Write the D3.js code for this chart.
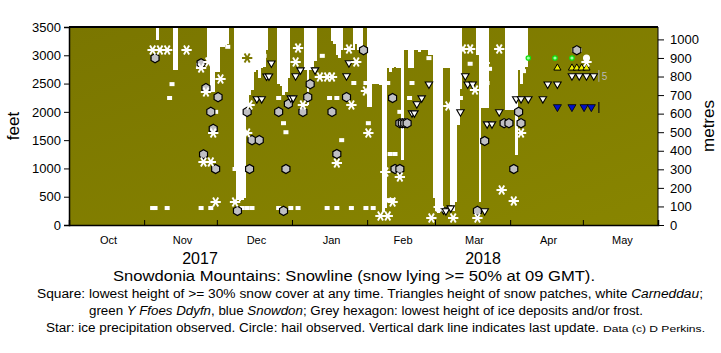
<!DOCTYPE html>
<html>
<head>
<meta charset="utf-8">
<script src="https://cdn.jsdelivr.net/npm/d3@7"></script>
<style>
  body { margin: 0; background: #fff; }
  svg { display: block; font-family: "Liberation Sans", Arial, sans-serif; }
</style>
</head>
<body>
<div id="chart"></div>
<script>
// day index: 0 = 1 Oct 2017, heights in feet

// daily snowline (snow lying >= 50%), white from the top down to this height
const snowline = [
  [36,3270],[43,2740],[44,2740],[57,2900],[58,2350],[59,2350],[60,2700],[61,2700],[62,3150],[63,3150],[64,3180],[65,3200],
  [68,1000],[69,450],[70,430],[71,440],[72,470],[73,1950],[74,2300],[75,2390],[76,2700],[77,2740],[78,2600],[79,2780],[80,2800],[81,3100],
  [86,2500],[87,2450],[88,2300],[89,2350],[90,2600],
  [97,2740],[98,2120],[99,2740],[100,2800],[101,2900],
  [108,3250],[109,3200],[110,3000],[111,2950],[112,3100],
  [117,3100],[118,3200],[119,3100],[120,3150],
  [123,2090],[124,2090],[125,2500],[126,2500],[127,2500],[128,2480],[129,230],[130,300],[131,2780],[132,2700],[133,2780],[134,2800],[135,2780],[136,2780],[137,1150],
  [138,3090],[139,3090],[140,2780],[141,2780],[142,3090],[143,3100],[144,3050],[145,3090],[146,3100],[147,3100],[148,3000],[149,3000],
  [150,480],[151,250],[152,220],[153,300],[154,2780],[155,2780],[156,2780],[157,350],[158,250],[159,400],[160,1770],[161,2400],
  [168,3000],[169,400],[170,2070],[171,2070],[172,2070],
  [180,2030],[181,2030],[182,2030],[183,2030],[184,1240],[185,2740],[186,2500],[187,2740],[188,2800]
];

// lowest height of >= 30% snow cover
const squares = [
  [34,300],[35,300],[40,300],[42,2490],[41,2245],[53,2830],[54,300],[58,300],[60,2000],[68,990],[65,3150],
  [71,300],[73,300],[75,300],[86,300],[91,300],[94,300],[106,300],[110,300],[116,300],[122,300],[125,300],
  [131,440],[133,440],[132,1255],[134,1255],[123,1800],[112,1500],[88,1800],[89,1640],[86,2245],[107,2245],[110,2245],
  [117,2510],[122,2510],[131,2510],[141,2510],[148,2950],[140,2245],[161,2245],[165,2850],[80,2990],[104,2990],
  [136,2000],[172,2510],[173,2760],[187,2720],[208,3090],[210,3090]
];

// ice precipitation
const stars = [
  [34,3094],[37,3094],[40,3094],[48,3094],[54,2776],[57,2882],[62,2581],[56,2351],[59,1626],[55,1114],[58,1114],[60,407],[68,407],
  [74,2122],[73,1626],[94,3129],[93,2882],[103,2616],[106,2616],[108,2616],[96,2122],[115,3111],[118,2882],[122,2369],[116,2122],
  [123,1626],[110,1096],[130,937],[136,849],[133,407],[131,159],[128,159],[149,124],[158,124],[168,124],[156,2104],[165,3111],
  [167,2387],[162,3111],[177,3111],[171,2864],[178,619],[183,424],[186,1626],[213,2882],[152,318]
];
const oliveStars = [[73,2952]];

// lowest ice deposits / frost
const hexagons = [
  [35,2950],[54,2860],[56,2420],[61,2260],[58,2000],[59,1700],[55,1250],[60,990],[69,250],[73,2000],[74,990],[75,1500],[78,1500],
  [86,2000],[90,2140],[89,990],[88,250],[96,2000],[98,2260],[99,2490],[108,2000],[110,1255],[114,2260],[121,3090],
  [133,2245],[134,990],[136,990],[136,1800],[137,1800],[138,1800],[139,1800],[168,250],[171,1485],
  [179,1800],[181,1800],[186,1800],[185,2000],[183,990],[209,3090]
];

// snow patches
const carneddau = [
  [77,2230],[79,2230],[81,2630],[82,2630],[83,2860],[91,2245],[92,2245],[93,2635],[95,2740],[101,2740],[114,2635],[115,2865],
  [141,1980],[142,1980],[143,2140],[145,2245],[148,2490],[154,265],[155,250],[157,300],[161,2000],[163,2635],[164,2490],[166,2490],
  [171,250],[172,1785],[174,1785],[177,2000],[184,2230],[186,2230],[189,2230],[195,2230],[197,2490],[201,2490],
  [207,2635],[210,2635],[213,2635],[216,2635]
];
const yellowTri = [[201,2775],[207,2775],[209,2775],[211,2775],[213,2775]];
const ffoesDdyfn = [[189,2952],[200,2952],[207,2952]];
const snowdon = [[201,2086],[207,2086],[212,2086],[215,2086]];
const hail = [[213,2952]];
const lastUpdate = 218.6;

const monthNames = ["Oct","Nov","Dec","Jan","Feb","Mar","Apr","May"];
const yearLabels = [["2017", 200], ["2018", 483]];

const width = 721, height = 353;
const plotLeft = 69, plotRight = 658, plotTop = 27, plotBottom = 225;
const olive = "#7d7900";

const t0 = new Date(Date.UTC(2017, 9, 1));
const t1 = new Date(Date.UTC(2018, 5, 1));
const x = d3.scaleUtc().domain([t0, t1]).range([plotLeft, plotRight]);
const dayW = x(d3.utcDay.offset(t0, 1)) - x(t0);
const xd = d => x(d3.utcDay.offset(t0, Math.floor(d))) + (d % 1) * dayW;
const y = d3.scaleLinear().domain([0, 3500]).range([plotBottom, plotTop]);
const yM = d3.scaleLinear().domain([0, 3500 * 0.3048]).range([plotBottom, plotTop]);

const svg = d3.select("#chart").append("svg")
    .attr("width", width)
    .attr("height", height);

const defs = svg.append("defs");
const grad = defs.append("linearGradient").attr("id", "bg")
    .attr("x1", "0").attr("y1", "0").attr("x2", "1").attr("y2", "1");
grad.append("stop").attr("offset", "0").attr("stop-color", "#7a7600");
grad.append("stop").attr("offset", "1").attr("stop-color", "#888500");

svg.append("rect")
    .attr("x", plotLeft).attr("y", plotTop)
    .attr("width", plotRight - plotLeft).attr("height", plotBottom - plotTop)
    .attr("fill", "url(#bg)");

// snow lying
svg.append("g")
  .selectAll("rect")
  .data(snowline)
  .join("rect")
    .attr("x", d => xd(d[0]))
    .attr("width", dayW + 0.4)
    .attr("y", y(3500))
    .attr("height", d => y(d[1]) - y(3500))
    .attr("fill", "#fff")
    .attr("shape-rendering", "crispEdges");

const cx = d => xd(d[0] + 0.5);

// squares
svg.append("g")
  .selectAll("rect")
  .data(squares)
  .join("rect")
    .attr("x", d => cx(d) - 2.5)
    .attr("y", d => y(d[1]) - 2)
    .attr("width", 5).attr("height", 4)
    .attr("fill", "#fff");

// hexagons
const hexPath = r => "M" + d3.range(6).map(i => {
  const a = Math.PI / 3 * i + Math.PI / 6;
  return [r * Math.cos(a), r * Math.sin(a)].join(",");
}).join("L") + "Z";

svg.append("g")
  .selectAll("path")
  .data(hexagons)
  .join("path")
    .attr("d", hexPath(4.6))
    .attr("transform", d => `translate(${cx(d)},${y(d[1])})`)
    .attr("fill", "#c0c0c4")
    .attr("stroke", "#000")
    .attr("stroke-width", 1.2);

// triangles
const triDown = d3.symbol(d3.symbolTriangle, 24)();
svg.append("g")
  .selectAll("path")
  .data(carneddau)
  .join("path")
    .attr("d", triDown)
    .attr("transform", d => `translate(${cx(d)},${y(d[1])}) rotate(180)`)
    .attr("fill", "#fff")
    .attr("stroke", "#000")
    .attr("stroke-width", 1.1);

svg.append("g")
  .selectAll("path")
  .data(snowdon)
  .join("path")
    .attr("d", d3.symbol(d3.symbolTriangle, 28)())
    .attr("transform", d => `translate(${cx(d)},${y(d[1])}) rotate(180)`)
    .attr("fill", "#0010c8")
    .attr("stroke", "#000")
    .attr("stroke-width", 0.8);

svg.append("g")
  .selectAll("path")
  .data(yellowTri)
  .join("path")
    .attr("d", d3.symbol(d3.symbolTriangle, 22)())
    .attr("transform", d => `translate(${cx(d)},${y(d[1])})`)
    .attr("fill", "#f0f000")
    .attr("stroke", "#000")
    .attr("stroke-width", 1);

svg.append("g")
  .selectAll("circle")
  .data(ffoesDdyfn)
  .join("circle")
    .attr("cx", cx)
    .attr("cy", d => y(d[1]))
    .attr("r", 2.2)
    .attr("fill", "#a0ffa0")
    .attr("stroke", "#10e010")
    .attr("stroke-width", 1.2);

svg.append("g")
  .selectAll("circle")
  .data(hail)
  .join("circle")
    .attr("cx", cx)
    .attr("cy", d => y(d[1]))
    .attr("r", 3.5)
    .attr("fill", "#fff");

// stars
const star = d3.symbol(d3.symbolAsterisk, 75)();
svg.append("g")
  .selectAll("path")
  .data(stars)
  .join("path")
    .attr("d", star)
    .attr("transform", d => `translate(${cx(d)},${y(d[1])}) rotate(90)`)
    .attr("fill", "none")
    .attr("stroke", "#fff")
    .attr("stroke-width", 1.9);

svg.append("g")
  .selectAll("path")
  .data(oliveStars)
  .join("path")
    .attr("d", star)
    .attr("transform", d => `translate(${cx(d)},${y(d[1])}) rotate(90)`)
    .attr("fill", "none")
    .attr("stroke", olive)
    .attr("stroke-width", 1.9);

// last update lines
const lx = xd(lastUpdate);
svg.append("line").attr("x1", lx).attr("x2", lx).attr("y1", y(2740)).attr("y2", y(2530))
    .attr("stroke", "#a8a8a8").attr("stroke-width", 1);
svg.append("line").attr("x1", lx).attr("x2", lx).attr("y1", y(2175)).attr("y2", y(1980))
    .attr("stroke", "#111").attr("stroke-width", 1.2);
svg.append("text").attr("x", lx + 3).attr("y", y(2635) + 4)
    .attr("font-size", 10).attr("fill", "#b8b8b8").text("5");

// frame
svg.append("line").attr("x1", plotLeft).attr("x2", plotRight).attr("y1", plotTop).attr("y2", plotTop)
    .attr("stroke", "#000").attr("stroke-width", 2);

// left axis
const gl = svg.append("g").attr("transform", `translate(${plotLeft},0)`);
gl.call(d3.axisLeft(y).tickValues(d3.range(0, 3501, 100)).tickSize(2.5).tickFormat(""));
gl.call(d3.axisLeft(y).tickValues(d3.range(0, 3501, 500)).tickSize(5).tickPadding(3).tickFormat(d3.format("d")));
gl.selectAll("text").attr("font-size", 13).attr("font-family", "Liberation Sans, Arial, sans-serif");
gl.selectAll(".domain").attr("stroke-width", 1.5);

// right axis
const gr = svg.append("g").attr("transform", `translate(${plotRight},0)`);
gr.call(d3.axisRight(yM).tickValues(d3.range(0, 1001, 100)).tickSize(6).tickPadding(6).tickFormat(d3.format("d")));
gr.selectAll("text").attr("font-size", 13).attr("font-family", "Liberation Sans, Arial, sans-serif");
gr.select(".domain").attr("d", `M0,${plotTop}V${plotBottom}`);

// bottom axis: daily minor ticks and month ticks
const gb = svg.append("g").attr("transform", `translate(0,${plotBottom})`);
gb.call(d3.axisBottom(x).ticks(d3.utcDay.every(1)).tickSize(3).tickFormat(""));
gb.call(d3.axisBottom(x).ticks(d3.utcMonth.every(1)).tickSize(-5).tickFormat(""));
gb.selectAll(".domain").attr("stroke-width", 1.5);

const months = d3.utcMonth.range(t0, t1);
svg.append("g")
  .selectAll("text")
  .data(months)
  .join("text")
    .attr("x", (d, i) => (x(d) + x(d3.utcMonth.offset(d, 1))) / 2 + 2)
    .attr("y", 244)
    .attr("text-anchor", "middle")
    .attr("font-size", 11)
    .text((d, i) => monthNames[i]);

svg.append("g")
  .selectAll("text")
  .data(yearLabels)
  .join("text")
    .attr("x", d => d[1])
    .attr("y", 264)
    .attr("text-anchor", "middle")
    .attr("font-size", 16)
    .text(d => d[0]);

// axis titles
svg.append("text")
    .attr("transform", "translate(19,126) rotate(-90)")
    .attr("text-anchor", "middle")
    .attr("font-size", 17)
    .text("feet");
svg.append("text")
    .attr("transform", "translate(714,126) rotate(-90)")
    .attr("text-anchor", "middle")
    .attr("font-size", 17)
    .text("metres");

// captions
svg.append("text")
    .attr("x", 113).attr("y", 281)
    .attr("font-size", 15.5)
    .attr("textLength", 482).attr("lengthAdjust", "spacingAndGlyphs")
    .text("Snowdonia Mountains: Snowline (snow lying >= 50% at 09 GMT).");

const c2 = svg.append("text").attr("x", 37).attr("y", 298).attr("font-size", 12.5)
    .attr("textLength", 666).attr("lengthAdjust", "spacingAndGlyphs");
c2.append("tspan").text("Square: lowest height of >= 30% snow cover at any time. Triangles height of snow patches, white ");
c2.append("tspan").attr("font-style", "italic").text("Carneddau");
c2.append("tspan").text(";");

const c3 = svg.append("text").attr("x", 89).attr("y", 315).attr("font-size", 12.5)
    .attr("textLength", 554).attr("lengthAdjust", "spacingAndGlyphs");
c3.append("tspan").text("green ");
c3.append("tspan").attr("font-style", "italic").text("Y Ffoes Ddyfn");
c3.append("tspan").text(", blue ");
c3.append("tspan").attr("font-style", "italic").text("Snowdon");
c3.append("tspan").text("; Grey hexagon: lowest height of ice deposits and/or frost.");

svg.append("text").attr("x", 46).attr("y", 332).attr("font-size", 12.5)
    .attr("textLength", 553).attr("lengthAdjust", "spacingAndGlyphs")
    .text("Star: ice precipitation observed. Circle: hail observed. Vertical dark line indicates last update.");
svg.append("text").attr("x", 603).attr("y", 332).attr("font-size", 9)
    .attr("textLength", 102).attr("lengthAdjust", "spacingAndGlyphs")
    .text("Data (c) D Perkins.");
</script>
</body>
</html>
